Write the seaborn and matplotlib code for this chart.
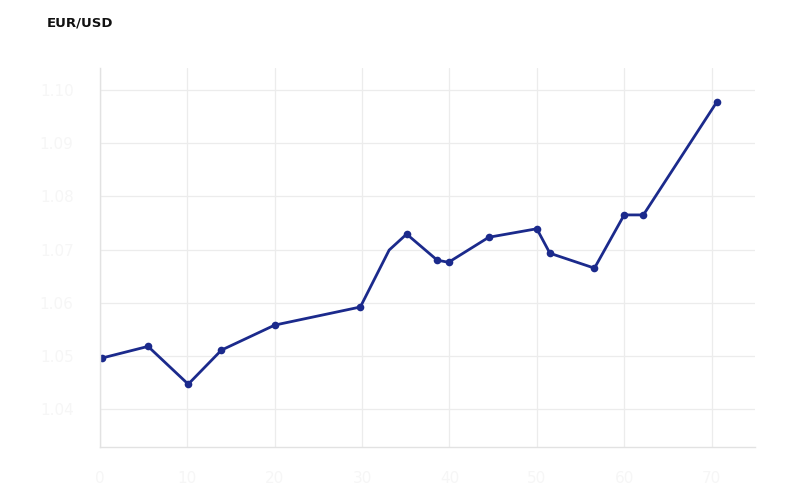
import numpy as np
import pandas as pd
import matplotlib
matplotlib.use("Agg")
import matplotlib.pyplot as plt
import seaborn as sns

sns.set_style("whitegrid")
plt.rcParams["font.family"] = ["DejaVu Sans"]

# EUR/USD readings (day offset, rate)
days = [0.2, 5.5, 10.1, 13.9, 20.0, 29.8, 33.1, 35.1, 38.6, 39.9, 44.5,
        50.0, 51.5, 56.6, 60.0, 62.2, 70.6]
rate = [1.0496, 1.0518, 1.0447, 1.0511, 1.0558, 1.0592, 1.0699, 1.0729, 1.0680,
        1.0676, 1.0723, 1.0739, 1.0693, 1.0665, 1.0765, 1.0765, 1.0977]
has_marker = [True, True, True, True, True, True, False, True, True,
              True, True, True, True, True, True, True, True]

df = pd.DataFrame({"day": days, "rate": rate})

fig = plt.figure(figsize=(8, 5), dpi=100)
ax = fig.add_axes([0.125, 0.106, 0.819, 0.758])

sns.lineplot(data=df, x="day", y="rate", ax=ax, color="#1b2a8c",
             linewidth=2.0, marker="o", markersize=5.5,
             markeredgewidth=0, markevery=has_marker)

ax.set_xlim(0, 75)
ax.set_ylim(1.0329, 1.1041)
ax.set_xticks(np.arange(0, 71, 10))
ax.set_yticks(np.arange(1.04, 1.1001, 0.01))
ax.set_yticklabels([f"{v:.2f}" for v in np.arange(1.04, 1.1001, 0.01)])

ax.grid(True, color="#ececec", linewidth=0.9)
for side in ["top", "right"]:
    ax.spines[side].set_visible(False)
for side in ["left", "bottom"]:
    ax.spines[side].set_color("#e2e2e2")
    ax.spines[side].set_linewidth(1.0)

# labels are washed out in the reference
ax.tick_params(axis="both", colors="#f6f6f6", labelsize=11, length=3)
ax.tick_params(axis="x", pad=14)
ax.tick_params(axis="y", pad=16)
ax.set_xlabel("")
ax.set_ylabel("")

fig.text(0.059, 0.955, "EUR/USD", fontsize=9.5, fontweight="bold",
         color="#111111", ha="left", va="center")

fig.savefig("out.png", dpi=100, facecolor="white")
